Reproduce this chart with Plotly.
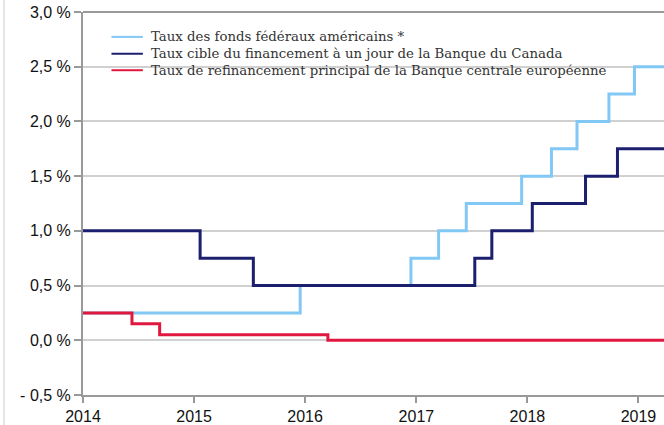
import plotly.graph_objects as go

# Change dates and levels (step series)
fed_dates = ["2014-01-01", "2015-12-16", "2016-12-14", "2017-03-15", "2017-06-14",
             "2017-12-13", "2018-03-21", "2018-06-13", "2018-09-26", "2018-12-19", "2019-04-30"]
fed_vals = [0.25, 0.50, 0.75, 1.00, 1.25, 1.50, 1.75, 2.00, 2.25, 2.50, 2.50]

boc_dates = ["2014-01-01", "2015-01-21", "2015-07-15", "2017-07-12", "2017-09-06",
             "2018-01-17", "2018-07-11", "2018-10-24", "2019-04-30"]
boc_vals = [1.00, 0.75, 0.50, 0.75, 1.00, 1.25, 1.50, 1.75, 1.75]

ecb_dates = ["2014-01-01", "2014-06-11", "2014-09-10", "2016-03-16", "2019-04-30"]
ecb_vals = [0.25, 0.15, 0.05, 0.00, 0.00]

names = [
    "Taux des fonds fédéraux américains *",
    "Taux cible du financement à un jour de la Banque du Canada",
    "Taux de refinancement principal de la Banque centrale européenne",
]
colors = ["#82c8f5", "#1b1f6e", "#e0183f"]

y_ticks = [-0.5, 0.0, 0.5, 1.0, 1.5, 2.0, 2.5, 3.0]
y_labels = ["- 0,5 %", "0,0 %", "0,5 %", "1,0 %", "1,5 %", "2,0 %", "2,5 %", "3,0 %"]
x_ticks = ["2014-01-01", "2015-01-01", "2016-01-01", "2017-01-01", "2018-01-01", "2019-01-01"]
x_labels = ["2014", "2015", "2016", "2017", "2018", "2019"]

fig = go.Figure()
for d, v, n, c in zip([fed_dates, boc_dates, ecb_dates], [fed_vals, boc_vals, ecb_vals], names, colors):
    fig.add_trace(go.Scatter(x=d, y=v, name=n, mode="lines", showlegend=False,
                             line=dict(color=c, width=3, shape="hv")))

fig.update_layout(
    width=664, height=425,
    margin=dict(l=83, r=0, t=12, b=26),
    paper_bgcolor="white", plot_bgcolor="white",
    showlegend=False,
    xaxis=dict(type="date", range=["2014-01-01", "2019-03-26"],
               tickvals=x_ticks, ticktext=x_labels,
               ticks="outside", ticklen=6, tickcolor="#999999", tickwidth=1.5,
               showline=True, linecolor="#999999", linewidth=2,
               showgrid=False, zeroline=False,
               tickfont=dict(family="Liberation Sans", size=16, color="#111111")),
    yaxis=dict(range=[-0.5, 3.0], tickvals=y_ticks, ticktext=y_labels,
               ticks="outside", ticklen=7, tickcolor="#999999", tickwidth=1.5,
               showline=True, linecolor="#999999", linewidth=2,
               showgrid=True, gridcolor="#d0d0d0", gridwidth=1.5,
               zeroline=False,
               tickfont=dict(family="Liberation Sans", size=16, color="#111111")),
)

# legend drawn as paper-anchored samples + labels
leg_y = [0.935, 0.891, 0.848]
for n, c, yy in zip(names, colors, leg_y):
    fig.add_shape(type="line", xref="paper", yref="paper", x0=0.049, x1=0.103, y0=yy, y1=yy,
                  line=dict(color=c, width=2))
    fig.add_annotation(xref="paper", yref="paper", x=0.113, y=yy, text=n, showarrow=False,
                       xanchor="left", yanchor="middle",
                       font=dict(family="DejaVu Serif", size=13.3, color="#333333"))

# top frame line and left outer border
fig.add_shape(type="line", xref="paper", yref="paper", x0=0, x1=1, y0=1, y1=1,
              line=dict(color="#999999", width=2))
fig.add_shape(type="line", xref="paper", yref="paper", x0=-0.136, x1=-0.136, y0=-0.1, y1=1.05,
              line=dict(color="#dddddd", width=1.5))

fig.write_html("out.html", config={"displayModeBar": False},
               post_script="document.body.style.margin='0';")
